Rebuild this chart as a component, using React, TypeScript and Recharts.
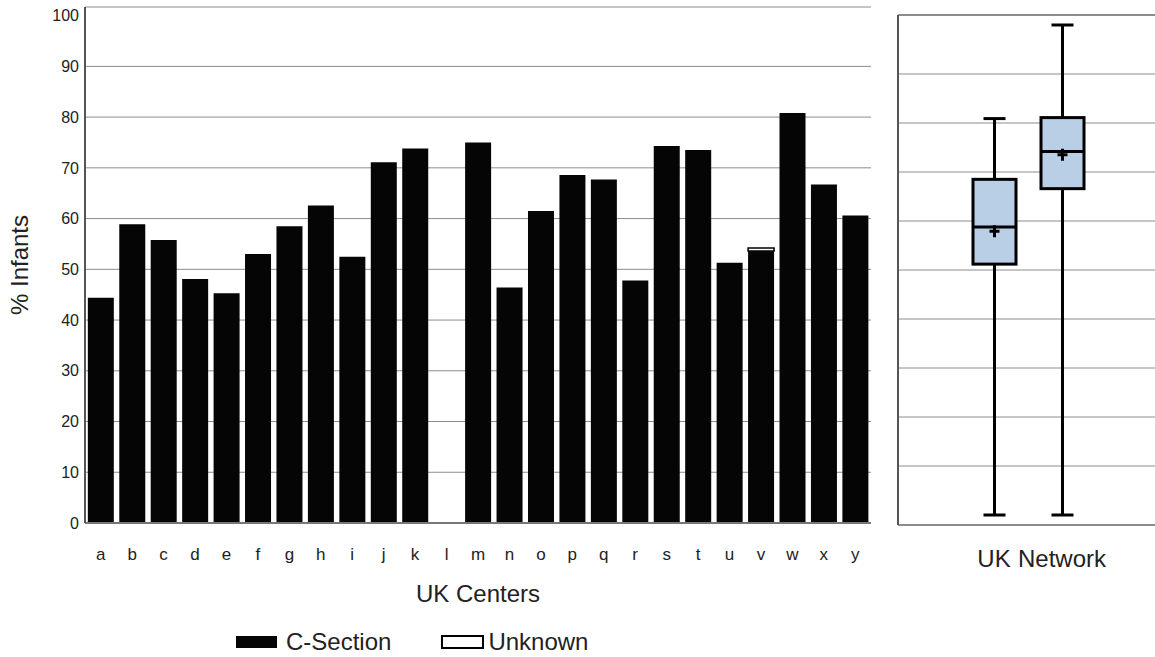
import React from 'react';
import { ComposedChart, Bar, XAxis, YAxis, CartesianGrid, ReferenceLine, Legend } from 'recharts';

// bar chart: % of infants by UK center
const CENTERS = ['a', 'b', 'c', 'd', 'e', 'f', 'g', 'h', 'i', 'j', 'k', 'l', 'm', 'n', 'o', 'p', 'q', 'r', 's', 't', 'u', 'v', 'w', 'x', 'y'];
const C_SECTION = [44.4, 58.9, 55.8, 48.1, 45.3, 53.0, 58.5, 62.6, 52.5, 71.1, 73.8, 0, 75.0, 46.4, 61.5, 68.6, 67.7, 47.8, 74.3, 73.5, 51.3, 53.6, 80.8, 66.7, 60.6];
const UNKNOWN = [0, 0, 0, 0, 0, 0, 0, 0, 0, 0, 0, 0, 0, 0, 0, 0, 0, 0, 0, 0, 0, 0.6, 0, 0, 0];
const Y_TICKS = [0, 10, 20, 30, 40, 50, 60, 70, 80, 90, 100];
const GRID_VALUES = [10, 20, 30, 40, 50, 60, 70, 80, 90];
const Y_MAX = 101.7;

// box plot: UK vs network
const GROUPS = ['UK', 'Network'];
const BOX_MIN = [0, 0];
const BOX_Q1 = [51.2, 66.6];
const BOX_MEDIAN = [58.8, 74.2];
const BOX_MEAN = [57.9, 73.5];
const BOX_Q3 = [68.5, 81.1];
const BOX_MAX = [80.9, 100];
const BOX_DOMAIN: [number, number] = [-2.04, 102.04];

const FONT = '"Liberation Sans", Arial, sans-serif';
const TEXT = '#222';

const barData = CENTERS.map((c, i) => ({ center: c, cSection: C_SECTION[i], unknown: UNKNOWN[i] }));
const boxData = GROUPS.map((g, i) => ({
  group: g,
  min: BOX_MIN[i],
  q1: BOX_Q1[i],
  median: BOX_MEDIAN[i],
  mean: BOX_MEAN[i],
  q3: BOX_Q3[i],
  max: BOX_MAX[i],
}));

const BoxShape = (props: any) => {
  const { x, y, width, height, payload } = props;
  if (!payload || !height) return null;
  const top = Math.min(y, y + height);
  const h = Math.abs(height);
  const span = payload.max - payload.min;
  const toY = (v: number) => top + (h * (payload.max - v)) / span;
  const cx = x + width / 2;
  const cap = 11;
  const yMean = toY(payload.mean);
  return (
    <g>
      <line x1={cx} x2={cx} y1={toY(payload.max)} y2={toY(payload.min)} stroke="#000" strokeWidth={3} />
      <line x1={cx - cap} x2={cx + cap} y1={toY(payload.max)} y2={toY(payload.max)} stroke="#000" strokeWidth={3} />
      <line x1={cx - cap} x2={cx + cap} y1={toY(payload.min)} y2={toY(payload.min)} stroke="#000" strokeWidth={3} />
      <rect x={x} y={toY(payload.q3)} width={width} height={toY(payload.q1) - toY(payload.q3)} fill="#b9cfe6" stroke="#000" strokeWidth={3} />
      <line x1={x} x2={x + width} y1={toY(payload.median)} y2={toY(payload.median)} stroke="#000" strokeWidth={3} />
      <path d={`M${cx - 5},${yMean}H${cx + 5}M${cx},${yMean - 6}V${yMean + 6}`} stroke="#000" strokeWidth={3} fill="none" />
    </g>
  );
};

const NoTick = () => <g />;

const renderYLabel = (props: any) => {
  const vb = props.viewBox || { x: 0, y: 0, height: 0 };
  const lx = vb.x + 19;
  const ly = vb.y + vb.height / 2;
  return (
    <text x={lx} y={ly} transform={`rotate(-90, ${lx}, ${ly})`} textAnchor="middle" dominantBaseline="central"
      fontSize={24} fill={TEXT} fontFamily={FONT}>
      % Infants
    </text>
  );
};

const renderLegend = (props: any) => {
  const items = props.payload || [];
  return (
    <div style={{ display: 'flex', alignItems: 'center', height: 28, fontFamily: FONT, fontSize: 24, color: TEXT }}>
      {items.map((entry: any, i: number) => {
        const hollow = entry.color === '#ffffff';
        return (
          <div key={entry.value} style={{ display: 'flex', alignItems: 'center', marginLeft: i === 0 ? 0 : 50 }}>
            <svg width={43} height={14} style={{ marginRight: hollow ? 4 : 8 }}>
              <rect x={1} y={1} width={41} height={12} fill={hollow ? '#fff' : '#050505'} stroke="#000" strokeWidth={hollow ? 2 : 0} />
            </svg>
            <span>{entry.value}</span>
          </div>
        );
      })}
    </div>
  );
};

const App: React.FC = () => {
  return (
    <div style={{ position: 'absolute', left: 0, top: 0, width: 1155, height: 657, overflow: 'hidden', background: '#fff' }}>
      <div style={{ position: 'absolute', left: 0, top: 0 }}>
        <ComposedChart width={880} height={657} data={barData} margin={{ top: 7, right: 9, left: 0, bottom: 94 }} barCategoryGap="9%">
          <CartesianGrid horizontal vertical={false} horizontalValues={GRID_VALUES} stroke="#8c8c8c" />
          <XAxis
            dataKey="center"
            height={40}
            tickLine={false}
            tickSize={0}
            tickMargin={25}
            interval={0}
            axisLine={{ stroke: '#777', strokeWidth: 2 }}
            tick={{ fill: TEXT, fontSize: 17, fontFamily: FONT }}
            label={{ value: 'UK Centers', position: 'bottom', offset: 22, fontSize: 24, fill: TEXT, fontFamily: FONT }}
          />
          <YAxis
            width={85}
            domain={[0, Y_MAX]}
            ticks={Y_TICKS}
            interval={0}
            tickLine={false}
            tickSize={0}
            tickMargin={6}
            axisLine={{ stroke: '#555', strokeWidth: 2 }}
            tick={{ fill: TEXT, fontSize: 16, fontFamily: FONT }}
            label={renderYLabel}
          />
          <ReferenceLine y={Y_MAX} stroke="#8c8c8c" />
          <ReferenceLine x="y" position="end" stroke="#000" strokeWidth={2} />
          <Bar dataKey="cSection" name="C-Section" stackId="s" fill="#050505" isAnimationActive={false} />
          <Bar dataKey="unknown" name="Unknown" stackId="s" fill="#ffffff" stroke="#000" strokeWidth={1.5} isAnimationActive={false} />
          <Legend
            layout="horizontal"
            verticalAlign="middle"
            align="center"
            content={renderLegend}
            wrapperStyle={{ left: 235, top: 628, width: 420, height: 28 }}
          />
        </ComposedChart>
      </div>
      <div style={{ position: 'absolute', left: 880, top: 0 }}>
        <ComposedChart width={275} height={657} data={boxData} margin={{ top: 15, right: 0, left: 8, bottom: 92 }}>
          <CartesianGrid horizontal vertical={false} horizontalValues={GRID_VALUES} stroke="#8c8c8c" />
          <XAxis
            dataKey="group"
            height={40}
            padding={{ left: 62, right: 59 }}
            tickLine={false}
            tickSize={0}
            tickMargin={25}
            interval={0}
            axisLine={{ stroke: '#666', strokeWidth: 1.5 }}
            tick={{ fill: TEXT, fontSize: 24, fontFamily: FONT }}
          />
          <YAxis
            width={10}
            domain={BOX_DOMAIN}
            ticks={GRID_VALUES}
            interval={0}
            tick={NoTick}
            tickLine={false}
            axisLine={{ stroke: '#555', strokeWidth: 2 }}
          />
          <ReferenceLine y={BOX_DOMAIN[1]} stroke="#666" strokeWidth={1.5} />
          <Bar dataKey={(d: any) => [d.min, d.max]} barSize={43} shape={BoxShape} isAnimationActive={false} />
        </ComposedChart>
      </div>
    </div>
  );
};

export default App;
